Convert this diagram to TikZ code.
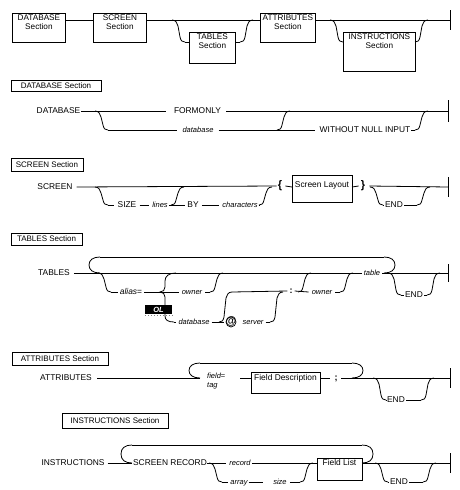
\documentclass[tikz,border=0pt]{standalone}
\usepackage{fontspec}
\setmainfont{Liberation Sans}
\newcommand\rrDown[3]{\draw[rr] (#1,#2) .. controls ({#1+4},#2) and ({#1+5},{#2+3}) .. ({#1+6},{#2+6}) -- ({#1+8},{#3-5}) .. controls ({#1+9},{#3-1}) and ({#1+10},#3) .. ({#1+13},#3);}
\newcommand\rrUp[3]{\draw[rr] (#1,#2) .. controls ({#1+3},#2) and ({#1+4},{#2-1}) .. ({#1+5},{#2-5}) -- ({#1+7},{#3+6}) .. controls ({#1+8},{#3+3}) and ({#1+9},#3) .. ({#1+13},#3);}
\newcommand\rrLoopL[3]{\draw[rr] (#1,#2) .. controls ({#1-7},#2) and ({#1-11},{#2+3}) .. ({#1-11},{(#2+#3)/2}) .. controls ({#1-11},{#3-3}) and ({#1-7},#3) .. (#1,#3);}
\newcommand\rrLoopR[3]{\draw[rr] (#1,#2) .. controls ({#1+7},#2) and ({#1+11},{#2+3}) .. ({#1+11},{(#2+#3)/2}) .. controls ({#1+11},{#3-3}) and ({#1+7},#3) .. (#1,#3);}
\begin{document}
\begin{tikzpicture}[x=1pt,y=-1pt,
 rr/.style={line width=0.8pt},
 kw/.style={inner sep=0pt, text height=5.8pt, text depth=0pt, font=\fontsize{8.4}{9}\selectfont},
 vr/.style={kw, font=\fontsize{7.5}{9}\selectfont\itshape},
 sym/.style={kw, font=\fontsize{11}{12}\selectfont\bfseries},
 hdr/.style={draw, line width=0.8pt, inner sep=0pt, font=\fontsize{8}{9}\selectfont},
 bx/.style={draw, line width=0.8pt, inner sep=0pt, anchor=north west},
 bt/.style={inner sep=0pt, align=center, font=\fontsize{8.2}{9}\selectfont, anchor=north}]
\useasboundingbox (0,0) rectangle (459,490);

% ---------- top row ----------
\node[bx, minimum width=53pt, minimum height=29pt] (dbb) at (12,13) {};
\node[bt] at ([yshift=-2pt]dbb.north) {DATABASE\\Section};
\node[bx, minimum width=53pt, minimum height=29pt] (scb) at (93,13) {};
\node[bt] at ([yshift=-2pt]scb.north) {SCREEN\\Section};
\node[bx, minimum width=46pt, minimum height=31pt] (tbb) at (189,32) {};
\node[bt] at ([yshift=-2pt]tbb.north) {TABLES\\Section};
\node[bx, minimum width=55pt, minimum height=29pt] (atb) at (260,13) {};
\node[bt] at ([yshift=-2pt]atb.north) {ATTRIBUTES\\Section};
\node[bx, minimum width=72pt, minimum height=39pt] (inb) at (343,32) {};
\node[bt] at ([yshift=-2pt]inb.north) {INSTRUCTIONS\\Section};
\draw[rr] (65,20) -- (93,20);
\draw[rr] (146,20) -- (260,20);
\draw[rr] (315,20) -- (450,20);
\draw[rr] (450,10) -- (450,30);
\rrDown{172}{20}{42}
\draw[rr] (185,42) -- (189,42);
\draw[rr] (235,42) -- (240,42);
\rrUp{240}{42}{20}
\rrDown{330}{20}{42}
\rrUp{415}{42}{20}

% ---------- DATABASE ----------
\node[hdr, minimum width=90pt, minimum height=11pt] (h1) at (56,85.5) {DATABASE Section};
\node[kw] (d1) at (58.5,111) {DATABASE};
\node[kw] (d2) at (197.5,111) {FORMONLY};
\node[vr] (d3) at (198,130) {database};
\node[kw] (d4) at (365,130) {WITHOUT NULL INPUT};
\draw[rr] ([xshift=1pt]d1.east) -- ([xshift=-8pt]d2.west);
\draw[rr] ([xshift=5pt]d2.east) -- (448,111);
\draw[rr] (448,100) -- (448,122);
\rrDown{95}{111}{130}
\draw[rr] (108,130) -- ([xshift=-5pt]d3.west);
\draw[rr] ([xshift=5pt]d3.east) -- ([xshift=-5pt]d4.west);
\rrUp{277}{130}{111}
\draw[rr] ([xshift=1pt]d4.east) -- (415,130);
\rrUp{415}{130}{111}

% ---------- SCREEN ----------
\node[hdr, minimum width=72pt, minimum height=13pt] (h2) at (47,165) {SCREEN Section};
\node[kw] (s1) at (55,187) {SCREEN};
\node[sym] (s2) at (280,186) {\{};
\node[bx, minimum width=60pt, minimum height=27pt] (s3) at (292,175) {};
\node[kw] at (322,185) {Screen Layout};
\node[sym] (s4) at (363,186) {\}};
\draw[rr] ([xshift=4pt]s1.east) -- ([xshift=-1pt]s2.west);
\draw[rr] ([xshift=3pt]s2.east) -- (292,187);
\draw[rr] (352,187) -- ([xshift=-2pt]s4.west);
\draw[rr] ([xshift=4pt]s4.east) -- (448,187);
\draw[rr] (448,177) -- (448,197);
\rrDown{95}{187}{205}
\node[kw] (s5) at (127,205) {SIZE};
\node[vr] (s6) at (160,205) {lines};
\node[kw] (s7) at (193,205) {BY};
\node[vr] (s8) at (240,205) {characters};
\draw[rr] (108,205) -- ([xshift=-3pt]s5.west);
\draw[rr] ([xshift=3pt]s5.east) -- ([xshift=-3pt]s6.west);
\draw[rr] ([xshift=1pt]s6.east) -- ([xshift=-2pt]s7.west);
\draw[rr] ([xshift=3pt]s7.east) -- ([xshift=-3pt]s8.west);
\draw[rr] ([xshift=1pt]s8.east) -- (259,205);
\rrUp{259}{205}{187}
\rrUp{171}{205}{187}
\rrDown{370}{187}{205}
\node[kw] (s9) at (394,205) {END};
\draw[rr] (383,205) -- ([xshift=-1pt]s9.west);
\draw[rr] ([xshift=1pt]s9.east) -- (417,205);
\rrUp{417}{205}{187}

% ---------- TABLES ----------
\node[hdr, minimum width=71pt, minimum height=12pt] (h3) at (46.5,239) {TABLES Section};
\node[kw] (t1) at (54,273) {TABLES};
\node[vr] (t2) at (372,273) {table};
\draw[rr] ([xshift=4pt]t1.east) -- ([xshift=-2pt]t2.west);
\draw[rr] ([xshift=2pt]t2.east) -- (448,273);
\draw[rr] (448,264) -- (448,282);
\draw[rr] (100,257) -- (384,257);
\rrLoopL{100}{257}{273}
\rrLoopR{384}{257}{273}
\rrDown{98}{273}{292}
\node[kw] (t3) at (131,292) {\textit{alias}=};
\draw[rr] (111,292) -- ([xshift=-2pt]t3.west);
\draw[rr] ([xshift=2pt]t3.east) -- (160,292);
\draw[rr] (176,273) .. controls (169,273) and (165,276) .. (165,281) -- (165,287) .. controls (165,290) and (163,292) .. (160,292) .. controls (163,292) and (165,294) .. (165,297) -- (165,316) .. controls (165,320) and (168,322) .. (174,322);
\node[vr] (t4) at (192,292) {owner};
\draw[rr] (160,292) -- ([xshift=-3pt]t4.west);
\draw[rr] ([xshift=3pt]t4.east) -- (210,292);
\rrUp{210}{292}{273}
\node[fill=black, text=white, inner sep=0pt, minimum width=27pt, minimum height=9pt, font=\fontsize{7.5}{8}\selectfont\itshape\bfseries] (ol) at (158.5,309.5) {OL};
\draw[dotted, line width=1pt, gray] ([yshift=-1.5pt]ol.south west) -- ([yshift=-1.5pt]ol.south east);
\node[vr] (t5) at (194,322) {database};
\draw[rr] (174,322) -- ([xshift=-2pt]t5.west);
\node[sym] (t6) at (231,322) {@};
\draw[line width=0.7pt] (t6.center) circle (5pt);
\node[vr] (t7) at (253,322) {server};
\draw[rr] ([xshift=2pt]t5.east) -- ([xshift=-1pt]t6.west);
\draw[rr] ([xshift=2pt]t7.east) -- (270,322);
\rrUp{270}{322}{292}
\rrUp{219}{322}{292}
\node[kw, font=\fontsize{9}{10}\selectfont\bfseries] (t8) at (291,291) {:};
\draw[rr] (232,292) -- ([xshift=-2pt]t8.west);
\node[vr] (t9) at (322,292) {owner};
\draw[rr] ([xshift=2pt]t8.east) -- ([xshift=-3pt]t9.west);
\rrUp{298}{292}{273}
\draw[rr] ([xshift=3pt]t9.east) -- (340,292);
\rrUp{340}{292}{273}
\rrDown{388}{273}{295}
\node[kw] (t10) at (414,295) {END};
\draw[rr] (401,295) -- ([xshift=-1pt]t10.west);
\draw[rr] ([xshift=1pt]t10.east) -- (427,295);
\rrUp{427}{295}{273}

% ---------- ATTRIBUTES ----------
\node[hdr, minimum width=96pt, minimum height=13pt] (h4) at (60,358.5) {ATTRIBUTES Section};
\node[kw] (a1) at (66,378) {ATTRIBUTES};
\draw[rr] ([xshift=5pt]a1.east) -- (200,378);
\draw[rr] (200,363) -- (352,363);
\rrLoopL{200}{363}{378}
\rrLoopR{352}{363}{378}
\node[vr, anchor=west] (a2) at (207,376) {field\upshape=};
\node[vr, anchor=west] (a3) at (207,385) {tag};
\node[bx, minimum width=69pt, minimum height=21pt] (a4) at (251,372) {};
\node[kw] (a5) at (285.5,378) {Field Description};
\draw[rr] (240,378) -- (251,378);
\draw[rr] (320,378) -- (330,378);
\node[kw, font=\fontsize{9}{10}\selectfont\bfseries] (a6) at (336,378) {;};
\draw[rr] (341,378) -- (450,378);
\draw[rr] (450,368) -- (450,388);
\rrDown{373}{378}{400}
\node[kw] (a7) at (396,400) {END};
\draw[rr] (386,400) -- ([xshift=-1pt]a7.west);
\draw[rr] ([xshift=1pt]a7.east) -- (421,400);
\rrUp{421}{400}{378}

% ---------- INSTRUCTIONS ----------
\node[hdr, minimum width=106pt, minimum height=15pt] (h5) at (115,420.5) {INSTRUCTIONS Section};
\node[kw] (i1) at (73,463) {INSTRUCTIONS};
\draw[rr] ([xshift=3pt]i1.east) -- (132,463);
\draw[rr] (132,445) -- (362,445);
\rrLoopL{132}{445}{463}
\rrLoopR{362}{445}{463}
\node[kw] (i2) at (170,463) {SCREEN RECORD};
\node[vr] (i3) at (240,463) {record};
\draw[rr] (i2.east) -- ([xshift=-3pt]i3.west);
\draw[rr] ([xshift=1pt]i3.east) -- (317,463);
\node[bx, minimum width=45pt, minimum height=22pt] (i4) at (317,458) {};
\node[kw] (i5) at (339.5,463) {Field List};
\rrDown{209}{463}{482}
\node[vr] (i6) at (239,482) {array};
\node[vr] (i7) at (280,482) {size};
\draw[rr] (222,482) -- ([xshift=-2pt]i6.west);
\draw[rr] ([xshift=1pt]i6.east) -- (263,482);
\draw[rr] ([xshift=3pt]i7.east) -- (300,482);
\rrUp{300}{482}{463}
\draw[rr] (362,463) -- (450,463);
\draw[rr] (450,453) -- (450,473);
\rrDown{375}{463}{482}
\node[kw] (i8) at (399,482) {END};
\draw[rr] (388,482) -- ([xshift=-1pt]i8.west);
\draw[rr] ([xshift=1pt]i8.east) -- (423,482);
\rrUp{423}{482}{463}
\end{tikzpicture}
\end{document}
